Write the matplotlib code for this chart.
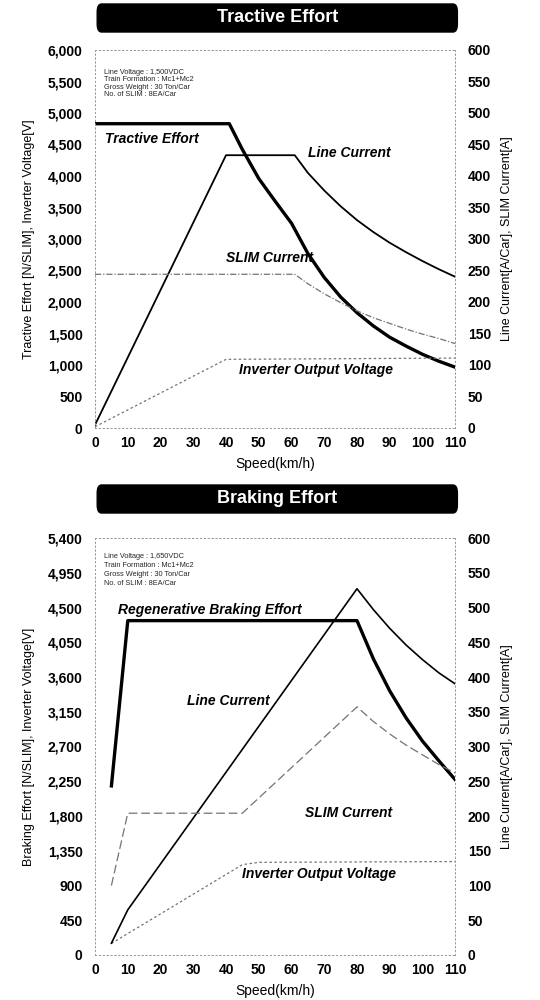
import matplotlib
matplotlib.use("Agg")
import matplotlib.pyplot as plt
from matplotlib.patches import FancyBboxPatch
from matplotlib.ticker import FuncFormatter, MultipleLocator

plt.rcParams.update({"font.family": ["Liberation Sans", "DejaVu Sans"], "font.weight": "bold"})

# --- tractive effort (top) ---
te_speed = [0, 41, 45, 50, 55, 60, 65, 70, 75, 80, 85, 90, 95, 100, 105, 110]
te_force = [4830, 4830, 4420, 3960, 3600, 3250, 2770, 2390, 2080, 1830, 1620, 1440, 1300, 1170, 1060, 965]
te_lc_speed = [0, 40, 61, 65, 70, 75, 80, 85, 90, 95, 100, 105, 110]
te_lc = [5, 433, 433, 405, 377, 352, 330, 311, 294, 279, 265, 252, 240]
te_slim_speed = [0, 61, 65, 70, 75, 80, 85, 90, 95, 100, 105, 110]
te_slim = [244, 244, 229, 213, 199, 186, 175, 166, 157, 149, 142, 134]
te_inv_speed = [0, 40, 110]
te_inv = [20, 1090, 1110]

# --- braking effort (bottom) ---
be_speed = [5, 10, 80, 85, 90, 95, 100, 105, 110]
be_force = [2190, 4330, 4330, 3835, 3420, 3070, 2770, 2515, 2270]
be_lc_speed = [5, 10, 80, 85, 90, 95, 100, 105, 110]
be_lc = [17, 65, 527, 497, 470, 446, 425, 406, 390]
be_slim_speed = [5, 10, 45, 80, 85, 90, 95, 100, 105, 110]
be_slim = [100, 204, 204, 357, 336, 318, 302, 288, 274, 262]
be_inv_speed = [5, 45, 50, 110]
be_inv = [150, 1170, 1200, 1210]

spec_top = "Line Voltage : 1,500VDC\nTrain Formation : Mc1+Mc2\nGross Weight : 30 Ton/Car\nNo. of SLIM : 8EA/Car"
spec_bot = "Line Voltage : 1,650VDC\nTrain Formation : Mc1+Mc2\nGross Weight : 30 Ton/Car\nNo. of SLIM : 8EA/Car"

fig = plt.figure(figsize=(5.4, 10), dpi=100)
comma = FuncFormatter(lambda v, p: f"{v:,.0f}")
LW_THIN = dict(color="0.45", lw=0.9)
narrow = ["Liberation Sans Narrow", "Liberation Sans", "DejaVu Sans"]


def panel(rect, box_y, ymax, ystep, left_label, spec, spec_y, spec_ls, title):
    ax = fig.add_axes(rect)
    ax2 = ax.twinx()
    ax.set_xlim(0, 110); ax.set_ylim(0, ymax)
    ax2.set_ylim(0, 600)
    ax.xaxis.set_major_locator(MultipleLocator(10))
    ax.yaxis.set_major_locator(MultipleLocator(ystep))
    ax2.yaxis.set_major_locator(MultipleLocator(50))
    ax.yaxis.set_major_formatter(comma)
    for a in (ax, ax2):
        a.tick_params(length=0, labelsize=10, pad=9)
        for s in a.spines.values():
            s.set_linestyle((0, (1, 3))); s.set_color("0.6"); s.set_linewidth(0.7)
    ax.tick_params(axis="x", pad=6)
    ax.set_xlabel("Speed(km/h)", fontsize=10, labelpad=5)
    ax.set_ylabel(left_label, fontsize=9, family=narrow, labelpad=9)
    ax2.set_ylabel("Line Current[A/Car], SLIM Current[A]", fontsize=9, family=narrow, labelpad=7)
    ax.text(0.025, spec_y, spec, transform=ax.transAxes, fontsize=5.3, fontweight="normal",
            family=narrow, va="top", ha="left", linespacing=spec_ls, color="0.15")
    fig.patches.append(FancyBboxPatch((0.18, box_y), 0.667, 0.028,
                                      boxstyle="round,pad=0,rounding_size=0.008",
                                      transform=fig.transFigure, fc="black", ec="black"))
    fig.text(0.18 + 0.3335, box_y + 0.0145, title, color="white", fontsize=13,
             ha="center", va="center", family=narrow)
    return ax, ax2


ax, ax2 = panel([0.176, 0.572, 0.667, 0.378], 0.968, 6000, 500,
                "Tractive Effort [N/SLIM], Inverter Voltage[V]", spec_top, 0.95, 1.1,
                "Tractive Effort")
ax.plot(te_speed, te_force, color="black", lw=2.4)
ax.plot(te_inv_speed, te_inv, ls=(0, (2, 2)), **LW_THIN)
ax2.plot(te_lc_speed, te_lc, color="black", lw=1.3)
ax2.plot(te_slim_speed, te_slim, ls=(0, (5, 1.5, 1, 1.5)), **LW_THIN)
lab = dict(fontsize=10, style="italic")
ax.text(3, 4520, "Tractive Effort", **lab)
ax.text(65, 4300, "Line Current", **lab)
ax.text(40, 2640, "SLIM Current", **lab)
ax.text(44, 850, "Inverter Output Voltage", **lab)

bx, bx2 = panel([0.176, 0.045, 0.667, 0.417], 0.487, 5400, 450,
                "Braking Effort [N/SLIM], Inverter Voltage[V]", spec_bot, 0.965, 1.4,
                "Braking Effort")
bx.plot(be_speed, be_force, color="black", lw=2.4)
bx.plot(be_inv_speed, be_inv, ls=(0, (2, 2)), **LW_THIN)
bx2.plot(be_lc_speed, be_lc, color="black", lw=1.2)
bx2.plot(be_slim_speed, be_slim, ls=(0, (7, 3)), **LW_THIN)
bx.text(7, 4420, "Regenerative Braking Effort", **lab)
bx.text(28, 3240, "Line Current", **lab)
bx.text(64, 1790, "SLIM Current", **lab)
bx.text(45, 1000, "Inverter Output Voltage", **lab)

fig.savefig("out.png", dpi=100)
